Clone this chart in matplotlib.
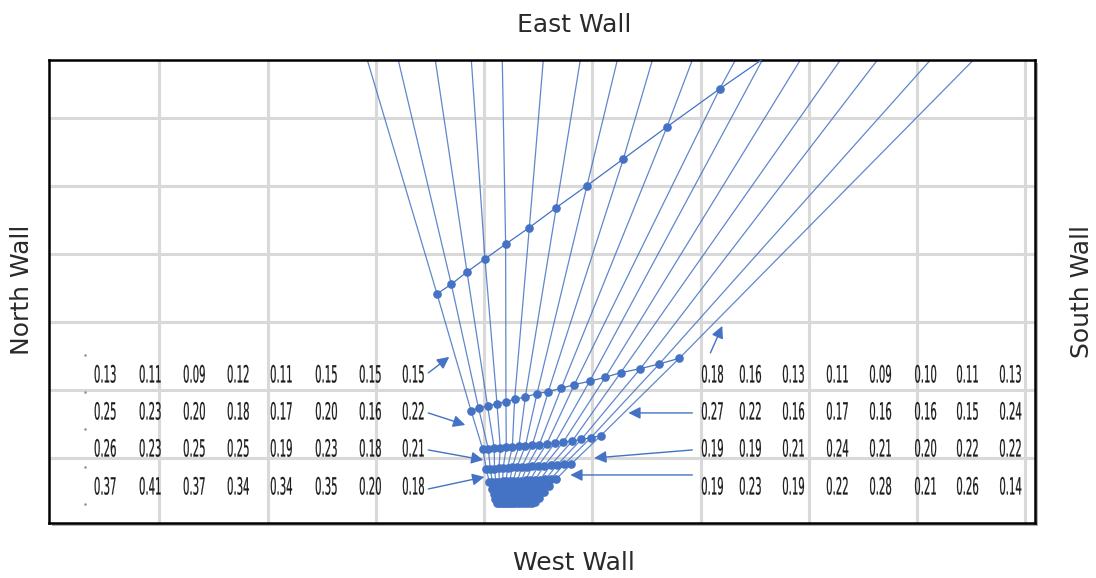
import numpy as np
import matplotlib.pyplot as plt
from matplotlib.patches import Rectangle
from matplotlib.patheffects import AbstractPathEffect
from matplotlib.transforms import Affine2D

# room grid (m), walls
x_grid = [1, 2, 3, 4, 5, 6, 7, 8, 9]
y_grid = [1, 2, 3, 4, 5, 6]
room_x = (-0.02, 9.09)
room_y = (0.044, 6.85)

# ray tips where they leave the plan (at the east wall)
ray_top_x = [2.921, 3.207, 3.549, 3.882, 4.168, 4.547, 4.889, 5.231, 5.555,
             5.924, 6.322, 6.571, 6.922, 7.292, 7.634, 8.124, 8.521]
ray_top_y = 6.85

# successive rows of points along the rays (A = farthest, I = nearest to source)
row_a_x = [3.565, 3.697, 3.842, 4.008, 4.199, 4.418, 4.667, 4.951, 5.287, 5.690, 6.177, 6.645]
row_a_y = [3.412, 3.554, 3.735, 3.926, 4.143, 4.387, 4.681, 5.004, 5.397, 5.868, 6.426, 6.941]
row_b_x = [3.879, 3.949, 4.032, 4.119, 4.202, 4.282, 4.381, 4.489, 4.593, 4.713, 4.834,
           4.975, 5.120, 5.262, 5.444, 5.619, 5.804]
row_b_y = [1.696, 1.731, 1.765, 1.799, 1.828, 1.863, 1.897, 1.946, 1.975, 2.025, 2.078,
           2.128, 2.187, 2.254, 2.313, 2.382, 2.466]
row_c_x = [3.988, 4.039, 4.094, 4.150, 4.205, 4.261, 4.321, 4.381, 4.445, 4.510, 4.579,
           4.653, 4.732, 4.815, 4.898, 4.986, 5.078]
row_c_y = [1.128, 1.132, 1.140, 1.147, 1.154, 1.162, 1.169, 1.176, 1.187, 1.197, 1.209,
           1.221, 1.235, 1.250, 1.272, 1.297, 1.328]
row_d_x = [4.020, 4.057, 4.096, 4.137, 4.176, 4.217, 4.260, 4.303, 4.349, 4.396, 4.446,
           4.500, 4.556, 4.615, 4.676, 4.739, 4.806]
row_d_y = [0.838, 0.841, 0.845, 0.849, 0.853, 0.857, 0.861, 0.865, 0.869, 0.873, 0.878,
           0.883, 0.888, 0.894, 0.900, 0.906, 0.912]
row_e_x = [4.048, 4.077, 4.108, 4.140, 4.171, 4.203, 4.237, 4.271, 4.308, 4.345, 4.383,
           4.426, 4.470, 4.517, 4.565, 4.615, 4.667]
row_e_y = [0.647, 0.649, 0.651, 0.654, 0.656, 0.658, 0.660, 0.663, 0.665, 0.668, 0.671,
           0.674, 0.677, 0.680, 0.684, 0.687, 0.691]
row_f_x = [4.076, 4.101, 4.127, 4.153, 4.180, 4.208, 4.237, 4.265, 4.297, 4.328, 4.361,
           4.397, 4.435, 4.475, 4.516, 4.558, 4.603]
row_f_y = [0.551, 0.552, 0.554, 0.555, 0.557, 0.559, 0.560, 0.562, 0.564, 0.565, 0.567,
           0.569, 0.571, 0.574, 0.576, 0.578, 0.581]
row_g_x = [4.094, 4.116, 4.140, 4.163, 4.187, 4.210, 4.236, 4.261, 4.288, 4.316, 4.345,
           4.376, 4.409, 4.444, 4.480, 4.517, 4.556]
row_g_y = [0.471, 0.472, 0.473, 0.474, 0.475, 0.476, 0.478, 0.479, 0.480, 0.482, 0.483,
           0.484, 0.486, 0.488, 0.489, 0.491, 0.493]
row_h_x = [4.103, 4.123, 4.143, 4.164, 4.185, 4.205, 4.227, 4.250, 4.274, 4.298, 4.323,
           4.351, 4.381, 4.412, 4.443, 4.476, 4.510]
row_h_y = [0.397, 0.398, 0.398, 0.399, 0.400, 0.401, 0.401, 0.402, 0.403, 0.404, 0.405,
           0.406, 0.407, 0.408, 0.409, 0.411, 0.412]
row_i_x = [4.122, 4.139, 4.156, 4.174, 4.192, 4.210, 4.229, 4.249, 4.269, 4.290, 4.312,
           4.336, 4.361, 4.388, 4.415, 4.444, 4.473]
row_i_y = [0.338, 0.338, 0.339, 0.339, 0.340, 0.340, 0.341, 0.341, 0.342, 0.342, 0.342,
           0.343, 0.343, 0.344, 0.345, 0.345, 0.346]

# measured values (two blocks of 4 rows x 8 columns)
left_cols = [0.499, 0.915, 1.322, 1.728, 2.126, 2.542, 2.948, 3.346]
right_cols = [6.109, 6.460, 6.858, 7.264, 7.662, 8.078, 8.466, 8.863]
value_rows = [2.221, 1.676, 1.132, 0.574]
left_vals = [
    [0.13, 0.11, 0.09, 0.12, 0.11, 0.15, 0.15, 0.15],
    [0.25, 0.23, 0.20, 0.18, 0.17, 0.20, 0.16, 0.22],
    [0.26, 0.23, 0.25, 0.25, 0.19, 0.23, 0.18, 0.21],
    [0.37, 0.41, 0.37, 0.34, 0.34, 0.35, 0.20, 0.18],
]
right_vals = [
    [0.18, 0.16, 0.13, 0.11, 0.09, 0.10, 0.11, 0.13],
    [0.27, 0.22, 0.16, 0.17, 0.16, 0.16, 0.15, 0.24],
    [0.19, 0.19, 0.21, 0.24, 0.21, 0.20, 0.22, 0.22],
    [0.19, 0.23, 0.19, 0.22, 0.28, 0.21, 0.26, 0.14],
]
marker_x = 0.314
marker_y = [2.515, 1.971, 1.426, 0.868, 0.324]

# arrows: (tail x, tail y, head x, head y)
arrows = [
    (3.484, 2.250, 3.678, 2.485),
    (3.484, 1.662, 3.826, 1.485),
    (3.484, 1.118, 3.993, 0.971),
    (3.484, 0.544, 4.002, 0.721),
    (6.091, 2.544, 6.201, 2.941),
    (5.924, 1.662, 5.333, 1.662),
    (5.924, 1.118, 5.018, 1.000),
    (5.924, 0.750, 4.797, 0.750),
]


class Condense(AbstractPathEffect):
    """tall narrow glyphs: scale the text path about its own centre"""

    def __init__(self, sx, sy, stroke=0.0):
        super().__init__()
        self.sx, self.sy, self.stroke = sx, sy, stroke

    def draw_path(self, renderer, gc, tpath, affine, rgbFace=None):
        bb = tpath.get_extents(affine)
        cx, cy = 0.5 * (bb.x0 + bb.x1), 0.5 * (bb.y0 + bb.y1)
        sq = Affine2D().translate(-cx, -cy).scale(self.sx, self.sy).translate(cx, cy)
        gc0 = renderer.new_gc()
        gc0.copy_properties(gc)
        if self.stroke and rgbFace is not None:
            gc0.set_foreground(rgbFace)
            gc0.set_linewidth(self.stroke)
        renderer.draw_path(gc0, tpath, affine + sq, rgbFace)
        gc0.restore()


blue = '#4472C4'
W, H = 1096, 578
fig = plt.figure(figsize=(W / 100, H / 100), dpi=100)
rect = [49 / W, (H - 523) / H, 986 / W, 463 / H]

# drop shadow behind the frame
fig.patches.append(Rectangle((rect[0] + 3 / W, rect[1] - 3 / H), rect[2], rect[3],
                             transform=fig.transFigure, facecolor='#b0b0b0',
                             edgecolor='none', zorder=-5))
ax = fig.add_axes(rect)
ax.set_zorder(2)
ax.set_xlim(*room_x)
ax.set_ylim(*room_y)
ax.set_xticks(x_grid)
ax.set_yticks(y_grid)
ax.tick_params(length=0, labelbottom=False, labelleft=False)
ax.grid(True, color='#d9d9d9', lw=2.2)
ax.set_axisbelow(True)
for s in ax.spines.values():
    s.set_linewidth(1.8)
    s.set_color('black')

rows_x = [row_i_x, row_h_x, row_g_x, row_f_x, row_e_x, row_d_x, row_c_x, row_b_x]
rows_y = [row_i_y, row_h_y, row_g_y, row_f_y, row_e_y, row_d_y, row_c_y, row_b_y]

# rays through every row, out to the east wall
for i in range(len(ray_top_x)):
    xs = [rx[i] for rx in rows_x]
    ys = [ry[i] for ry in rows_y]
    if i < len(row_a_x) and row_a_y[i] < ray_top_y:
        xs.append(row_a_x[i])
        ys.append(row_a_y[i])
    xs.append(ray_top_x[i])
    ys.append(ray_top_y)
    ax.plot(xs, ys, color=blue, lw=0.9, alpha=0.85, zorder=2)

for rx, ry in zip(rows_x + [row_a_x], rows_y + [row_a_y]):
    ax.plot(rx, ry, color=blue, lw=0.9, marker='o', ms=5.2, mec=blue, mfc=blue, zorder=3)

ax.plot([marker_x] * len(marker_y), marker_y, ls='none', marker='.', ms=1.5, color='#888888')

num_font = dict(family='DejaVu Sans', fontsize=11, color='#1a1a1a', ha='center',
                va='center', path_effects=[Condense(0.66, 1.55, stroke=0.15)])
for r, yv in enumerate(value_rows):
    for c, xv in enumerate(left_cols):
        ax.text(xv, yv, f'{left_vals[r][c]:.2f}', **num_font)
    for c, xv in enumerate(right_cols):
        ax.text(xv, yv, f'{right_vals[r][c]:.2f}', **num_font)

for x0, y0, x1, y1 in arrows:
    ax.annotate('', xy=(x1, y1), xytext=(x0, y0),
                arrowprops=dict(arrowstyle='-|>', color=blue, lw=1.0,
                                mutation_scale=18, shrinkA=0, shrinkB=0))

wall_font = dict(fontsize=18, color='#2a2a2a', ha='center', va='center')
fig.text(574 / W, 1 - 25 / H, 'East Wall', **wall_font)
fig.text(574 / W, 1 - 563 / H, 'West Wall', **wall_font)
fig.text(22 / W, 1 - 290 / H, 'North Wall', rotation=90, **wall_font)
fig.text(1082 / W, 1 - 292 / H, 'South Wall', rotation=90, **wall_font)

fig.savefig('out.png', dpi=100)
